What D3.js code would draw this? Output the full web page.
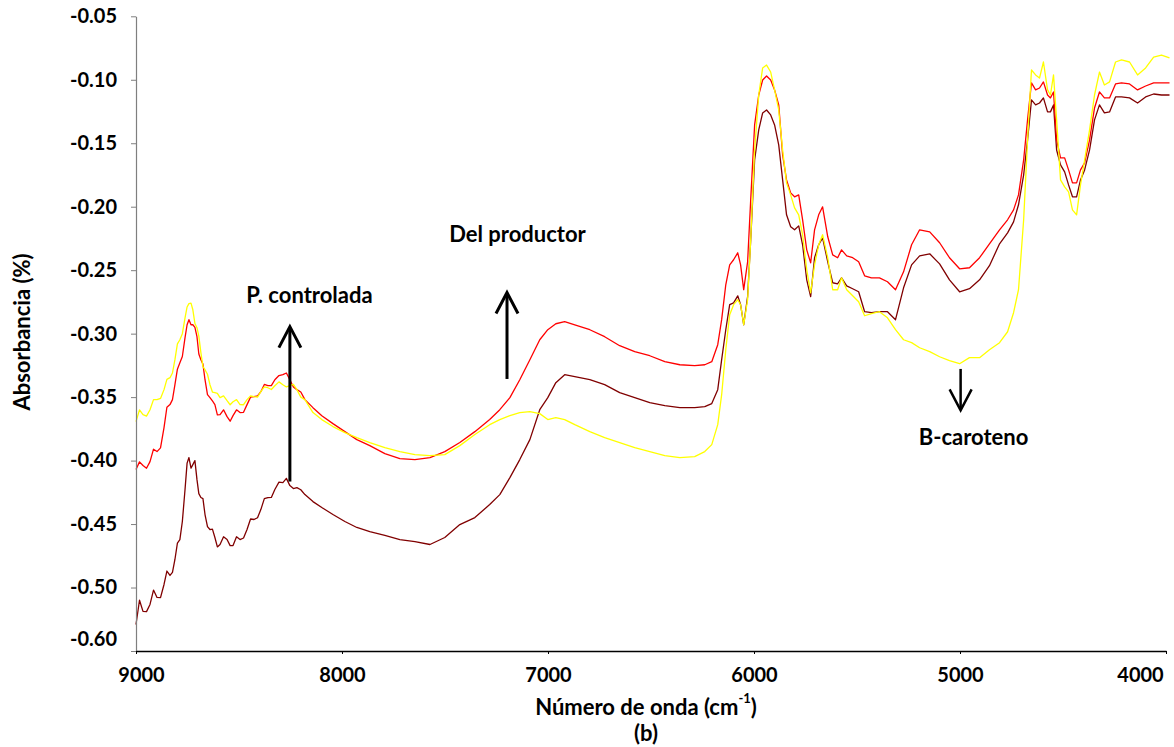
<!DOCTYPE html>
<html>
<head>
<meta charset="utf-8">
<script src="https://cdn.jsdelivr.net/npm/d3@7"></script>
<style>
  body { margin: 0; background: #fff; }
  svg { display: block; }
  text { font-family: Lato, "Open Sans", sans-serif; font-weight: bold; fill: #000; }
</style>
</head>
<body>
<svg id="chart" width="1174" height="747"></svg>
<script>
// NIR spectra: wavenumber (cm-1) and absorbance of the three samples
const wavenumber = [
  9000, 8966, 8932, 8898, 8864, 8835, 8811, 8787, 8762, 8743, 8724, 8704, 8685, 8665, 8641, 8617,
  8592, 8558, 8529, 8495, 8461, 8427, 8394, 8360, 8326, 8287, 8253, 8219, 8180, 8141, 8098, 8044,
  7986, 7928, 7865, 7792, 7719, 7646, 7573, 7501, 7428, 7355, 7283, 7234, 7185, 7137, 7088, 7040,
  7001, 6962, 6919, 6870, 6797, 6725, 6652, 6579, 6506, 6433, 6360, 6288, 6239, 6205, 6176, 6157,
  6137, 6118, 6099, 6079, 6065, 6050, 6031, 6016, 5997, 5977, 5958, 5939, 5919, 5900, 5880, 5861,
  5842, 5822, 5803, 5783, 5764, 5744, 5725, 5706, 5686, 5667, 5642, 5618, 5594, 5575, 5550, 5521,
  5492, 5463, 5430, 5391, 5352, 5313, 5274, 5235, 5196, 5147, 5099, 5051, 5002, 4954, 4905, 4857,
  4808, 4769, 4740, 4716, 4691, 4672, 4653, 4633, 4614, 4595, 4575, 4561, 4546, 4531, 4512, 4492,
  4473, 4454, 4434, 4415, 4395, 4371, 4347, 4323, 4299, 4274, 4245, 4216, 4177, 4138, 4099, 4060,
  4022, 3983
];

// yellow trace (B-caroteno)
const absBCaroteno = [
  -0.3693, -0.3638, -0.3599, -0.3520, -0.3441, -0.3347, -0.3205, -0.3048, -0.2875, -0.2764, -0.2812, -0.2953, -0.3150, -0.3284, -0.3402, -0.3465,
  -0.3504, -0.3528, -0.3536, -0.3559, -0.3520, -0.3496, -0.3457, -0.3426, -0.3410, -0.3402, -0.3410, -0.3441, -0.3520, -0.3622, -0.3677, -0.3732,
  -0.3780, -0.3819, -0.3858, -0.3898, -0.3929, -0.3953, -0.3961, -0.3953, -0.3882, -0.3795, -0.3717, -0.3677, -0.3646, -0.3622, -0.3614, -0.3630,
  -0.3677, -0.3662, -0.3677, -0.3717, -0.3772, -0.3819, -0.3858, -0.3898, -0.3929, -0.3961, -0.3976, -0.3969, -0.3929, -0.3874, -0.3717, -0.3481,
  -0.3127, -0.2851, -0.2772, -0.2733, -0.2772, -0.2930, -0.2733, -0.2261, -0.1553, -0.1120, -0.0907, -0.0884, -0.0939, -0.1080, -0.1238, -0.1553,
  -0.1812, -0.1907, -0.2009, -0.2064, -0.2221, -0.2497, -0.2678, -0.2458, -0.2300, -0.2221, -0.2402, -0.2654, -0.2654, -0.2560, -0.2654, -0.2702,
  -0.2749, -0.2859, -0.2843, -0.2827, -0.2875, -0.2969, -0.3048, -0.3071, -0.3111, -0.3142, -0.3182, -0.3213, -0.3237, -0.3189, -0.3189, -0.3127,
  -0.3071, -0.2985, -0.2835, -0.2654, -0.2103, -0.1474, -0.0923, -0.0962, -0.0986, -0.0860, -0.1080, -0.1120, -0.0962, -0.1316, -0.1789, -0.1844,
  -0.1883, -0.2025, -0.2064, -0.1828, -0.1631, -0.1395, -0.1120, -0.0939, -0.1041, -0.1017, -0.0860, -0.0844, -0.0860, -0.0962, -0.0907, -0.0821,
  -0.0805, -0.0828
];

// red trace (Del productor)
const absProductor = [
  -0.4071, -0.4039, -0.4008, -0.3929, -0.3740, -0.3559, -0.3402, -0.3229, -0.3032, -0.2890, -0.2930, -0.3024, -0.3205, -0.3363, -0.3504, -0.3559,
  -0.3638, -0.3654, -0.3646, -0.3622, -0.3559, -0.3496, -0.3457, -0.3410, -0.3363, -0.3323, -0.3363, -0.3441, -0.3520, -0.3583, -0.3646, -0.3709,
  -0.3772, -0.3835, -0.3882, -0.3945, -0.3984, -0.3992, -0.3976, -0.3929, -0.3858, -0.3772, -0.3677, -0.3599, -0.3504, -0.3363, -0.3205, -0.3048,
  -0.2969, -0.2922, -0.2906, -0.2930, -0.2969, -0.3024, -0.3095, -0.3142, -0.3174, -0.3221, -0.3245, -0.3252, -0.3245, -0.3221, -0.3087, -0.2890,
  -0.2615, -0.2458, -0.2418, -0.2363, -0.2458, -0.2654, -0.2434, -0.1946, -0.1356, -0.1120, -0.1002, -0.0970, -0.1002, -0.1080, -0.1198, -0.1592,
  -0.1789, -0.1891, -0.1922, -0.1907, -0.2103, -0.2340, -0.2442, -0.2182, -0.2064, -0.2001, -0.2237, -0.2379, -0.2402, -0.2340, -0.2387, -0.2402,
  -0.2434, -0.2544, -0.2560, -0.2560, -0.2591, -0.2654, -0.2513, -0.2300, -0.2182, -0.2198, -0.2284, -0.2402, -0.2489, -0.2481, -0.2402, -0.2292,
  -0.2182, -0.2103, -0.2025, -0.1907, -0.1631, -0.1316, -0.1025, -0.1080, -0.1065, -0.1017, -0.1120, -0.1143, -0.1096, -0.1474, -0.1615, -0.1615,
  -0.1710, -0.1812, -0.1812, -0.1710, -0.1655, -0.1474, -0.1222, -0.1096, -0.1143, -0.1143, -0.1033, -0.1025, -0.1033, -0.1080, -0.1049, -0.1025,
  -0.1025, -0.1025
];

// dark red trace (P. controlada)
const absControlada = [
  -0.5291, -0.5188, -0.5133, -0.5078, -0.4976, -0.4905, -0.4779, -0.4622, -0.4228, -0.3976, -0.4032, -0.4150, -0.4291, -0.4425, -0.4543, -0.4606,
  -0.4661, -0.4622, -0.4669, -0.4622, -0.4543, -0.4464, -0.4386, -0.4291, -0.4228, -0.4173, -0.4197, -0.4213, -0.4268, -0.4323, -0.4370, -0.4425,
  -0.4480, -0.4527, -0.4559, -0.4590, -0.4622, -0.4638, -0.4661, -0.4606, -0.4504, -0.4449, -0.4346, -0.4268, -0.4134, -0.3992, -0.3835, -0.3599,
  -0.3504, -0.3386, -0.3323, -0.3339, -0.3363, -0.3402, -0.3465, -0.3504, -0.3544, -0.3567, -0.3583, -0.3583, -0.3575, -0.3551, -0.3441, -0.3205,
  -0.2969, -0.2772, -0.2757, -0.2702, -0.2772, -0.2930, -0.2709, -0.2261, -0.1631, -0.1395, -0.1261, -0.1238, -0.1277, -0.1356, -0.1513, -0.1789,
  -0.2064, -0.2158, -0.2182, -0.2151, -0.2300, -0.2576, -0.2709, -0.2402, -0.2300, -0.2245, -0.2434, -0.2599, -0.2607, -0.2560, -0.2623, -0.2646,
  -0.2670, -0.2827, -0.2835, -0.2827, -0.2827, -0.2890, -0.2639, -0.2458, -0.2387, -0.2371, -0.2450, -0.2576, -0.2670, -0.2646, -0.2576, -0.2465,
  -0.2292, -0.2206, -0.2119, -0.1985, -0.1749, -0.1474, -0.1159, -0.1198, -0.1183, -0.1143, -0.1253, -0.1253, -0.1198, -0.1553, -0.1671, -0.1726,
  -0.1828, -0.1922, -0.1922, -0.1789, -0.1710, -0.1553, -0.1316, -0.1198, -0.1261, -0.1253, -0.1135, -0.1135, -0.1143, -0.1183, -0.1135, -0.1112,
  -0.1120, -0.1120
];

// extra readings in the noisy high-wavenumber band (9000-8200 cm-1)
const wavenumberFine = [
  8983, 8949, 8915, 8881, 8850, 8823, 8799, 8775, 8752, 8733, 8714, 8695, 8675, 8653,
  8629, 8605, 8575, 8543, 8512, 8478, 8444, 8410, 8377, 8343, 8306, 8270, 8236, 8200
];
const absBCarotenoFine = [
  -0.3600, -0.3650, -0.3520, -0.3510, -0.3360, -0.3310, -0.3080, -0.3000, -0.2790, -0.2760, -0.2920, -0.3020, -0.3260, -0.3320,
  -0.3460, -0.3470, -0.3490, -0.3560, -0.3520, -0.3560, -0.3490, -0.3500, -0.3420, -0.3440, -0.3380, -0.3420, -0.3400, -0.3500
];
const absProductorFine = [
  -0.4010, -0.4060, -0.3910, -0.3900, -0.3580, -0.3520, -0.3280, -0.3180, -0.2930, -0.2930, -0.2950, -0.3160, -0.3240, -0.3480,
  -0.3530, -0.3640, -0.3600, -0.3690, -0.3600, -0.3620, -0.3500, -0.3490, -0.3400, -0.3410, -0.3330, -0.3310, -0.3420, -0.3460
];
const absControladaFine = [
  -0.5100, -0.5190, -0.5020, -0.5080, -0.4870, -0.4880, -0.4650, -0.4480, -0.4020, -0.4060, -0.4000, -0.4260, -0.4300, -0.4520,
  -0.4540, -0.4680, -0.4600, -0.4670, -0.4600, -0.4610, -0.4460, -0.4450, -0.4300, -0.4290, -0.4170, -0.4140, -0.4220, -0.4230
];

const xTickValues = [9000, 8000, 7000, 6000, 5000, 4000];
const yTickValues = [-0.05, -0.10, -0.15, -0.20, -0.25, -0.30, -0.35, -0.40, -0.45, -0.50, -0.55];
const yTickLabels = ["-0.05", "-0.10", "-0.15", "-0.20", "-0.25", "-0.30", "-0.35", "-0.40", "-0.45", "-0.50", "-0.60"];

// merge coarse and fine readings into one descending-wavenumber series
function toPoints(values, fineValues) {
  const pts = wavenumber.map((w, i) => ({ w, a: values[i] }))
    .concat(wavenumberFine.map((w, i) => ({ w, a: fineValues[i] })));
  return pts.sort((p, q) => q.w - p.w);
}

const series = [
  { name: "P. controlada", color: "#800000", points: toPoints(absControlada, absControladaFine) },
  { name: "Del productor", color: "#ff0000", points: toPoints(absProductor, absProductorFine) },
  { name: "B-caroteno",    color: "#ffff00", points: toPoints(absBCaroteno, absBCarotenoFine) }
];

const svg = d3.select("#chart");
const plot = { left: 136, right: 1166, top: 16.3, bottom: 651 };

const x = d3.scaleLinear().domain([9000, 4000]).range([plot.left, plot.right]);
const y = d3.scaleLinear().domain([-0.55, -0.05]).range([plot.bottom, plot.top]);

// spectra
const line = d3.line()
  .x(p => x(p.w))
  .y(p => y(p.a));

svg.append("g").selectAll("path")
  .data(series)
  .join("path")
  .attr("d", s => line(s.points))
  .attr("fill", "none")
  .attr("stroke", s => s.color)
  .attr("stroke-width", 1.3)
  .attr("stroke-linejoin", "round");

// y axis
const yAxis = svg.append("g")
  .attr("transform", `translate(${plot.left},0)`)
  .call(d3.axisLeft(y)
    .tickValues(yTickValues)
    .tickFormat((d, i) => yTickLabels[i])
    .tickSizeInner(5).tickSizeOuter(0).tickPadding(14));
yAxis.select(".domain").attr("stroke", "#7f7f7f").attr("stroke-width", 1.2);
yAxis.selectAll(".tick line").attr("stroke", "#7f7f7f");
yAxis.selectAll(".tick text").attr("font-size", 20).attr("font-family", null);
// bottom label is lifted to stay clear of the x axis
yAxis.selectAll(".tick text").filter((d, i) => i === yTickValues.length - 1).attr("dy", "-0.3em");

// x axis
const xAxis = svg.append("g")
  .attr("transform", `translate(0,${plot.bottom})`)
  .call(d3.axisBottom(x)
    .tickValues(xTickValues)
    .tickFormat(d3.format("d"))
    .tickSizeInner(3).tickSizeOuter(0).tickPadding(14));
xAxis.select(".domain").attr("stroke", "#000").attr("stroke-width", 1.5);
xAxis.selectAll(".tick text").attr("font-size", 20).attr("font-family", null);
// keep the end labels inside the axis span
xAxis.selectAll(".tick text").each(function (d) {
  if (d === 9000) d3.select(this).attr("dx", 5);
  if (d === 4000) d3.select(this).attr("dx", -26);
});

// axis titles
svg.append("text")
  .attr("transform", "translate(22,332) rotate(-90)")
  .attr("text-anchor", "middle")
  .attr("dy", "0.35em")
  .attr("font-size", 22)
  .text("Absorbancia (%)");

const xTitle = svg.append("text")
  .attr("x", 646).attr("y", 707).attr("dy", "0.35em")
  .attr("text-anchor", "middle")
  .attr("font-size", 22);
xTitle.append("tspan").text("Número de onda (cm");
xTitle.append("tspan").attr("font-size", 13).attr("dy", "-0.9em").text("-1");
xTitle.append("tspan").attr("dy", "0.53em").text(")");

svg.append("text")
  .attr("x", 646).attr("y", 733).attr("dy", "0.35em")
  .attr("text-anchor", "middle")
  .attr("font-size", 22)
  .text("(b)");

// annotations: labelled arrows placed in data coordinates
const annotations = [
  { label: "P. controlada", lx: 8158, ly: -0.2694, ax: 8253, from: -0.4165, to: -0.2945, width: 3 },
  { label: "Del productor", lx: 7148, ly: -0.2221, ax: 7199, from: -0.3357, to: -0.2676, width: 3 },
  { label: "B-caroteno",    lx: 4934, ly: -0.3819, ax: 4997, from: -0.3278, to: -0.3604, width: 2.5 }
];

const ann = svg.append("g");
annotations.forEach(a => {
  const ax = x(a.ax), y0 = y(a.from), y1 = y(a.to);
  const dir = y1 < y0 ? 1 : -1; // 1: arrow points up
  ann.append("line")
    .attr("x1", ax).attr("x2", ax)
    .attr("y1", y0).attr("y2", y1 + dir * 1)
    .attr("stroke", "#000").attr("stroke-width", a.width);
  ann.append("path")
    .attr("d", `M${ax - 11},${y1 + dir * 21} L${ax},${y1} L${ax + 11},${y1 + dir * 21}`)
    .attr("fill", "none")
    .attr("stroke", "#000")
    .attr("stroke-width", a.width)
    .attr("stroke-linejoin", "miter");
  ann.append("text")
    .attr("x", x(a.lx)).attr("y", y(a.ly)).attr("dy", "0.35em")
    .attr("text-anchor", "middle")
    .attr("font-size", 22)
    .text(a.label);
});
</script>
</body>
</html>
